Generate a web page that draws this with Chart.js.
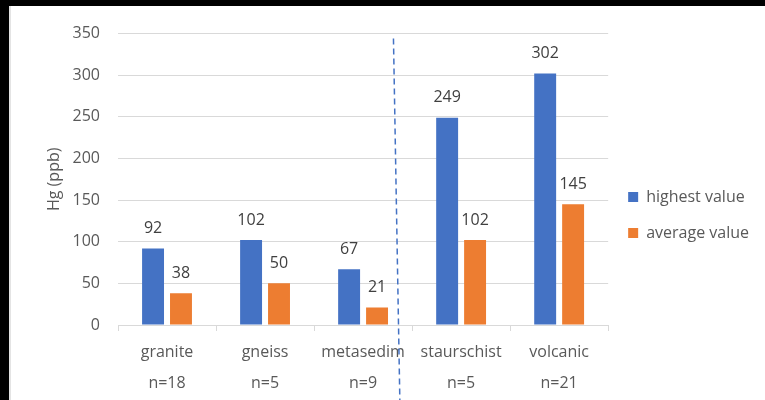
<!DOCTYPE html>
<html>
<head>
<meta charset="utf-8">
<script src="https://cdn.jsdelivr.net/npm/chart.js@4.4.1/dist/chart.umd.min.js"></script>
<style>
  html, body { margin: 0; padding: 0; background: #000; }
  #frame {
    position: absolute; left: 9px; top: 6px;
    width: 754px; height: 394px;
    background: #fff; border-left: 2px solid #e4e4e4;
  }
  canvas { display: block; }
</style>
</head>
<body>
<div id="frame"><canvas id="hgChart" width="754" height="394"></canvas></div>
<script>
// rock types and sample counts (shown as two-line axis labels)
const rockTypes = ['granite', 'gneiss', 'metasedim', 'staurschist', 'volcanic'];
const sampleCounts = ['n=18', 'n=5', 'n=9', 'n=5', 'n=21'];

// Hg in ppb
const highestValues = [92, 102, 67, 249, 302];
const averageValues = [38, 50, 21, 102, 145];

const yTicks = [0, 50, 100, 150, 200, 250, 300, 350];

// dashed divider, given in scale units: [x at top, y at top], x at canvas bottom
const dividerTop = [2.31, 344];
const dividerBottomX = 2.375;

const TEXT = '#595959';
const GRID = '#d9d9d9';
const FONT = "'Open Sans', sans-serif";

// value printed above each bar
const barValues = {
    id: 'barValues',
    afterDatasetsDraw(chart) {
        const ctx = chart.ctx;
        ctx.save();
        ctx.font = '16px ' + FONT;
        ctx.fillStyle = '#404040';
        ctx.textAlign = 'center';
        ctx.textBaseline = 'middle';
        chart.data.datasets.forEach((ds, i) => {
            chart.getDatasetMeta(i).data.forEach((bar, j) => {
                ctx.fillText(String(ds.data[j]), bar.x, bar.y - 20);
            });
        });
        ctx.restore();
    }
};

// dashed vertical divider between the metamorphic groups
const divider = {
    id: 'divider',
    afterDraw(chart) {
        const x = chart.scales.x, y = chart.scales.y, ctx = chart.ctx;
        ctx.save();
        ctx.strokeStyle = '#4472c4';
        ctx.lineWidth = 1.5;
        ctx.setLineDash([6, 4]);
        ctx.beginPath();
        ctx.moveTo(x.getPixelForValue(dividerTop[0]), y.getPixelForValue(dividerTop[1]));
        ctx.lineTo(x.getPixelForValue(dividerBottomX), chart.height);
        ctx.stroke();
        ctx.restore();
    }
};

// nudge the legend slightly below its default spot
const legendShift = {
    id: 'legendShift',
    afterLayout(chart) {
        const lg = chart.legend;
        lg.top += 3; lg.bottom += 3;
    }
};

new Chart(document.getElementById('hgChart'), {
    type: 'bar',
    data: {
        labels: rockTypes.map((r, i) => [r, sampleCounts[i]]),
        datasets: [
            { label: 'highest value', data: highestValues, backgroundColor: '#4472c4' },
            { label: 'average value', data: averageValues, backgroundColor: '#ed7d31' }
        ]
    },
    options: {
        responsive: false,
        animation: false,
        layout: { padding: { left: 30, top: 18, right: 6, bottom: 0 } },
        datasets: { bar: { categoryPercentage: 0.57, barPercentage: 0.785 } },
        plugins: {
            legend: {
                position: 'right',
                labels: {
                    boxWidth: 10, boxHeight: 10, padding: 20,
                    color: TEXT, font: { family: FONT, size: 16 }
                }
            },
            tooltip: { enabled: false }
        },
        scales: {
            x: {
                afterFit: s => { s.height = 75; },
                grid: { drawOnChartArea: false, color: GRID, tickLength: 6 },
                border: { color: GRID },
                ticks: { color: TEXT, padding: 6, font: { family: FONT, size: 16, lineHeight: 1.95 } }
            },
            y: {
                min: 0, max: 350,
                afterBuildTicks: s => { s.ticks = yTicks.map(v => ({ value: v })); },
                afterFit: s => { s.width = 77; },
                grid: { color: GRID, drawTicks: false },
                border: { display: false },
                ticks: { color: TEXT, padding: 18, font: { family: FONT, size: 16 } },
                title: { display: true, text: 'Hg (ppb)', color: TEXT, font: { family: FONT, size: 16 } }
            }
        }
    },
    plugins: [barValues, divider, legendShift]
});
</script>
</body>
</html>
